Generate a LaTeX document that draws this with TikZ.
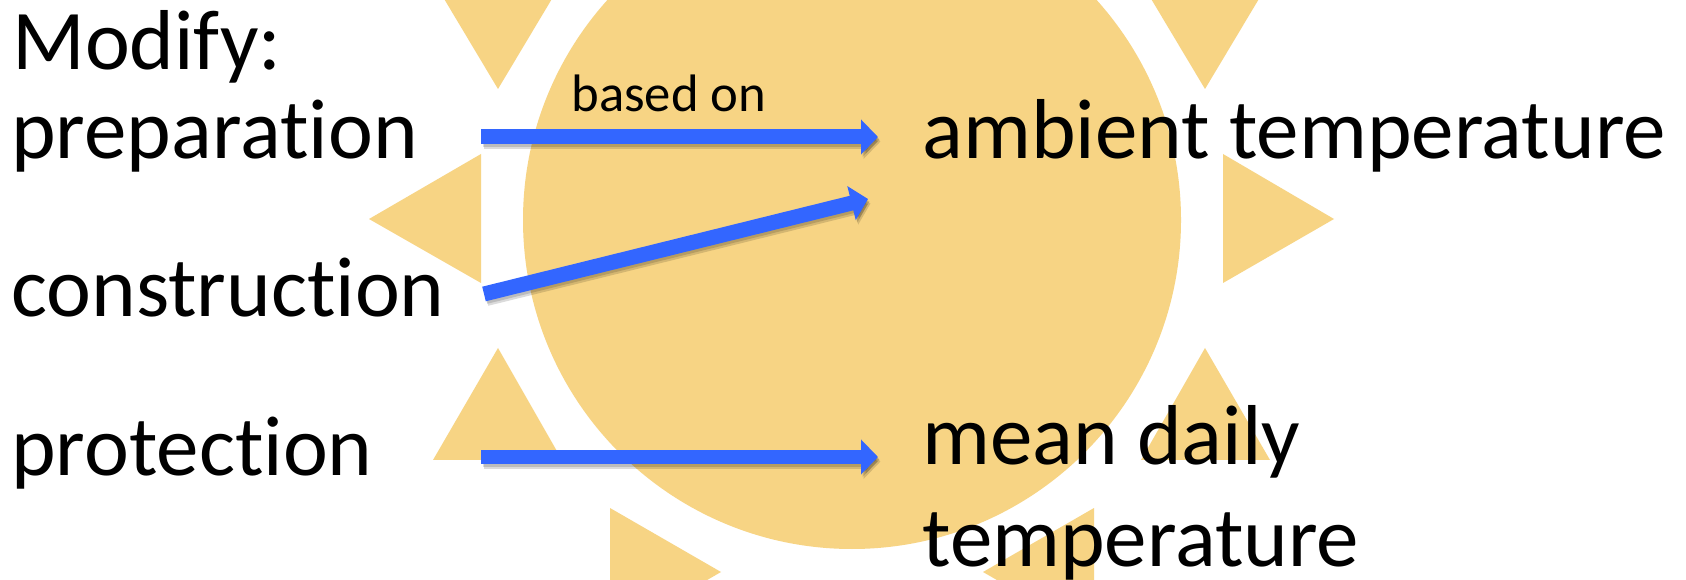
\documentclass[tikz,border=0pt]{standalone}
\usepackage{fontspec}
\setmainfont[Ligatures=NoCommon]{Carlito}
\usepackage{xcolor}
\usetikzlibrary{arrows.meta}
\definecolor{sunyellow}{HTML}{F7D484}
\definecolor{arrowblue}{HTML}{3366FF}
\tikzset{
  bigtext/.style={anchor=base west, inner sep=0pt, font=\fontsize{48.4}{58}\selectfont},
  smalltext/.style={anchor=base west, inner sep=0pt, font=\fontsize{30}{36}\selectfont},
  ray/.style={fill=sunyellow},
  flowarrow/.style={line width=0.3cm, arrowblue, -{Triangle[length=0.34cm, width=0.68cm]}},
  arrowshadow/.style={line width=0.3cm, black, opacity=0.14, -{Triangle[length=0.34cm, width=0.68cm]}}
}
\begin{document}
\begin{tikzpicture}[x=0.02cm, y=-0.02cm]
  \useasboundingbox (0,0) rectangle (1686,580);
  \clip (0,0) rectangle (1686,580);
  \fill[white] (0,0) rectangle (1686,580);
  % Sun
  \fill[sunyellow] (852,220) circle (329);
  \fill[ray] (369,219) -- (481,154) -- (481,283) -- cycle;
  \fill[ray] (1334,219) -- (1223,154) -- (1223,283) -- cycle;
  \fill[ray] (498,89) -- (431,-23) -- (565,-23) -- cycle;
  \fill[ray] (1205,89) -- (1138,-23) -- (1272,-23) -- cycle;
  \fill[ray] (498,348) -- (433,460) -- (562,460) -- cycle;
  \fill[ray] (1205,348) -- (1141,460) -- (1270,460) -- cycle;
  \fill[ray] (610,508) -- (721,572) -- (610,636) -- cycle;
  \fill[ray] (1094,508) -- (983,572) -- (1094,636) -- cycle;
  % Left column
  \node[bigtext] (modify) at (12,70) {Modify:};
  \node[bigtext] (preparation) at (11,159) {preparation};
  \node[bigtext] (construction) at (11,317) {construction};
  \node[bigtext] (protection) at (11,476) {protection};
  % Right column
  \node[bigtext] (ambient) at (922,159) {ambient temperature};
  \node[bigtext] (mean) at (922,464) {mean daily};
  \node[bigtext] (temperature) at (922,566) {temperature};
  \node[smalltext] (based) at (571,112) {based on};
  % Arrow ends
  \coordinate (prepstart) at (481,137);
  \coordinate (prepend) at (878,137);
  \coordinate (consstart) at (484,294);
  \coordinate (consend) at (868,199);
  \coordinate (protstart) at (481,457);
  \coordinate (protend) at (878,457);
  % Arrows
  \foreach \from/\to in {prepstart/prepend, consstart/consend, protstart/protend} {
    \draw[arrowshadow, transform canvas={xshift=0.03cm, yshift=-0.05cm}] (\from) -- (\to);
    \draw[arrowshadow, transform canvas={xshift=0.05cm, yshift=-0.09cm}] (\from) -- (\to);
    \draw[flowarrow] (\from) -- (\to);
  }
\end{tikzpicture}
\end{document}
